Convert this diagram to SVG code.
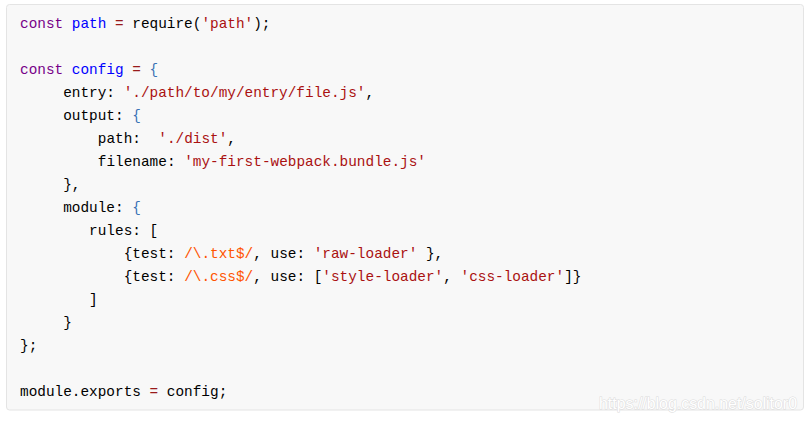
<svg xmlns="http://www.w3.org/2000/svg" width="805" height="422" viewBox="0 0 805 422">
<style>
.code{font-family:"Liberation Mono","DejaVu Sans Mono",monospace;font-size:14.4px;fill:#000;white-space:pre}
.kw{fill:#770088}
.def{fill:#0000ff}
.op{fill:#981a1a}
.str{fill:#aa1111}
.re{fill:#ff5500}
.br{fill:#3a72b5}
.wm{font-family:"Liberation Sans Narrow","Liberation Sans",Arial,sans-serif;font-size:16px}
</style>
<rect width="805" height="422" fill="#ffffff"/>
<g id="codebox">
<rect x="6.5" y="4.5" width="797" height="405.5" rx="3" fill="#f8f8f8" stroke="#e4e4e4" stroke-width="1"/>
</g>
<g id="code" class="code" xml:space="preserve">
<text x="20" y="27.5"><tspan class="kw">const</tspan> <tspan class="def">path</tspan> <tspan class="op">=</tspan> require(<tspan class="str">'path'</tspan>);</text>
<text x="20" y="73.6"><tspan class="kw">const</tspan> <tspan class="def">config</tspan> <tspan class="op">=</tspan> <tspan class="br">{</tspan></text>
<text x="63.2" y="96.6">entry: <tspan class="str">'./path/to/my/entry/file.js'</tspan>,</text>
<text x="63.2" y="119.6">output: <tspan class="br">{</tspan></text>
<text x="97.8" y="142.7">path:&#160; <tspan class="str">'./dist'</tspan>,</text>
<text x="97.8" y="165.7">filename: <tspan class="str">'my-first-webpack.bundle.js'</tspan></text>
<text x="63.2" y="188.7">},</text>
<text x="63.2" y="211.7">module: <tspan class="br">{</tspan></text>
<text x="89.1" y="234.8">rules: [</text>
<text x="123.7" y="257.8">{test: <tspan class="re">/\.txt$/</tspan>, use: <tspan class="str">'raw-loader'</tspan> },</text>
<text x="123.7" y="280.8">{test: <tspan class="re">/\.css$/</tspan>, use: [<tspan class="str">'style-loader'</tspan>, <tspan class="str">'css-loader'</tspan>]}</text>
<text x="89.1" y="303.9">]</text>
<text x="63.2" y="326.9">}</text>
<text x="20" y="349.9">};</text>
<text x="20" y="396">module.exports <tspan class="op">=</tspan> config;</text>
</g>
<g id="watermark" class="wm">
<text x="599" y="409" textLength="198" lengthAdjust="spacingAndGlyphs" fill="none" stroke="#dadada" stroke-width="1">https://blog.csdn.net/solitor0</text>
<text x="599" y="409" textLength="198" lengthAdjust="spacingAndGlyphs" fill="#ffffff">https://blog.csdn.net/solitor0</text>
</g>
</svg>
